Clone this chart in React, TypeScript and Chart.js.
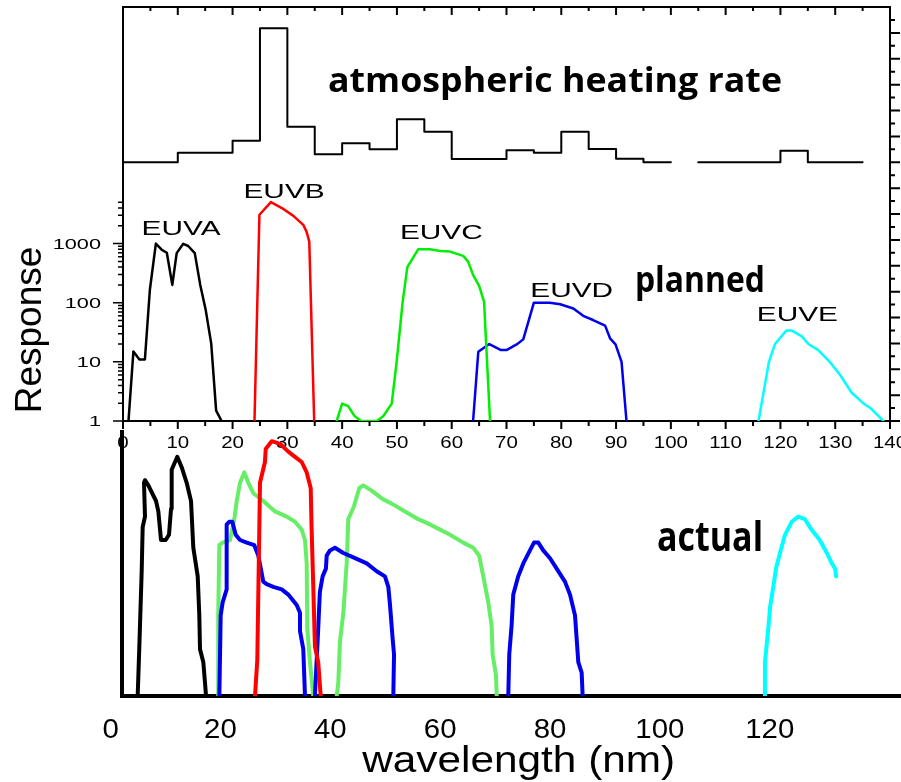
import React, { useEffect, useRef } from "react";
import { Chart, registerables } from "chart.js";

Chart.register(...registerables);

// ---------- top panel: atmospheric heating rate (arbitrary units, binned) ----------
const heatBinEdgesA = [0, 10, 20, 25, 30, 35, 40, 45, 50, 55, 60, 70, 75, 80, 85, 90, 95, 100];
const heatRatesA = [0, 0.74, 1.67, 10.35, 2.75, 0.61, 1.46, 1.0, 3.32, 2.36, 0.25, 0.92, 0.74, 2.36, 1.02, 0.27, 0];
const heatBinEdgesB = [105, 120, 125, 135];
const heatRatesB = [0, 0.89, 0];

// ---------- middle panel: planned channel responses (log) ----------
const euvaWave = [1, 1.9, 3, 4, 4.9, 6, 7.1, 8, 9, 9.8, 11, 11.9, 13.1, 14.1, 15.1, 16.1, 17, 18];
const euvaResp = [1, 15, 11, 11, 164, 1000, 780, 700, 200, 690, 990, 910, 690, 200, 75, 20.5, 1.5, 1];
const euvbWave = [24, 24.9, 27, 29, 31.1, 32.9, 33.5, 34, 34.9];
const euvbResp = [1, 3070, 5020, 3990, 2940, 2075, 1590, 1080, 1];
const euvcWave = [39, 40, 41.1, 42.3, 43.5, 46.3, 47.5, 49.05, 49.95, 51.05, 51.9, 53.9, 56, 57.9, 59.7, 62.1, 63, 63.9, 65, 65.9, 67];
const euvcResp = [1, 1.97, 1.78, 1.2, 1, 1, 1.2, 1.97, 10, 104, 400, 804, 800, 752, 732, 620, 495, 296, 192, 104, 1];
const euvdWave = [63.9, 64.85, 66.86, 69, 70, 71.85, 73.06, 75, 77.9, 79.8, 82.2, 84, 85.8, 88, 88.9, 89.9, 91, 91.9];
const euvdResp = [1, 14.8, 20, 15.8, 15.8, 19.7, 24, 100, 100, 94, 80, 60, 51, 41, 25, 19.7, 10, 1];
const euveWave = [116, 117.9, 119, 121.1, 122, 123.9, 125.1, 126.9, 129, 130.9, 133, 135.1, 136.4, 138.8];
const euveResp = [1, 10, 20, 34, 34, 27, 20, 15.8, 10, 6, 3, 2, 1.66, 1];

// ---------- bottom panel: actual channel responses (normalized) ----------
const actBlackWave = [4.93, 5.23, 5.66, 5.84, 6.26, 6.08, 6.26, 6.87, 8.27, 8.69, 9.18, 10.03, 10.63, 11.0, 11.12, 12.14, 12.94, 13.85, 14.64, 15.06, 15.86, 16.15, 16.28, 16.88, 17.19, 17.37];
const actBlackResp = [0, 0.19, 0.48, 0.65, 0.69, 0.82, 0.83, 0.81, 0.75, 0.71, 0.6, 0.6, 0.62, 0.72, 0.87, 0.92, 0.88, 0.82, 0.75, 0.57, 0.46, 0.31, 0.18, 0.13, 0.05, 0];
const actGreen1Wave = [19.6, 19.6, 19.79, 20.4, 21.74, 22.52, 22.96, 23.56, 24.34, 25.07, 25.98, 27.8, 29.93, 32.06, 33.57, 34.79, 35.39, 35.7, 35.81, 36.3, 36.9];
const actGreen1Resp = [0, 0.31, 0.58, 0.59, 0.6, 0.68, 0.75, 0.82, 0.86, 0.82, 0.78, 0.75, 0.71, 0.69, 0.67, 0.64, 0.6, 0.51, 0.26, 0.13, 0];
const actBlue1Wave = [19.8, 20.04, 20.4, 21.13, 21.13, 21.6, 22.16, 22.77, 23.56, 24.78, 26.16, 26.89, 27.8, 28.42, 29.62, 31.15, 32.35, 33.88, 34.48, 34.48, 35.08, 35.39];
const actBlue1Resp = [0, 0.31, 0.36, 0.41, 0.66, 0.67, 0.67, 0.62, 0.6, 0.59, 0.58, 0.54, 0.44, 0.43, 0.42, 0.41, 0.39, 0.35, 0.32, 0.25, 0.18, 0];
const actRedWave = [26.29, 26.71, 26.89, 27.2, 28.1, 28.24, 29.33, 30.84, 32.35, 33.57, 34.79, 35.7, 36.43, 36.6, 36.9, 37.2, 37.8, 38.25];
const actRedResp = [0, 0.14, 0.39, 0.82, 0.9, 0.95, 0.98, 0.97, 0.94, 0.92, 0.9, 0.86, 0.8, 0.64, 0.42, 0.19, 0.13, 0];
const actBlue2Wave = [37.2, 37.8, 38.1, 38.6, 39.2, 39.34, 39.94, 40.85, 42.37, 44.5, 46.63, 48.44, 49.95, 50.56, 50.87, 51.35, 51.6, 51.47];
const actBlue2Resp = [0, 0.26, 0.4, 0.46, 0.49, 0.54, 0.56, 0.57, 0.55, 0.53, 0.51, 0.48, 0.46, 0.42, 0.35, 0.22, 0.16, 0];
const actGreen2Wave = [41.16, 41.45, 41.76, 42.37, 42.98, 43.27, 44.31, 45.28, 46.0, 47.53, 49.35, 51.17, 53.6, 56.0, 58.15, 59.97, 61.8, 64.2, 66.03, 67.1, 67.85, 68.76, 69.37, 69.55, 70.16, 70.3];
const actGreen2Resp = [0, 0.05, 0.21, 0.32, 0.51, 0.68, 0.73, 0.8, 0.81, 0.79, 0.76, 0.74, 0.71, 0.68, 0.66, 0.64, 0.62, 0.59, 0.57, 0.54, 0.46, 0.36, 0.27, 0.16, 0.08, 0];
const actBlue3Wave = [72.4, 72.58, 73.0, 73.31, 74.2, 75.13, 76.35, 77.08, 77.87, 78.77, 80.0, 81.21, 82.72, 83.64, 84.55, 85.15, 85.76, 85.94];
const actBlue3Resp = [0, 0.16, 0.27, 0.39, 0.46, 0.51, 0.56, 0.59, 0.59, 0.56, 0.53, 0.49, 0.44, 0.39, 0.31, 0.13, 0.09, 0];
const actCyanWave = [119.13, 119.13, 119.74, 120.05, 120.65, 121.14, 121.87, 122.78, 124.0, 125.2, 126.4, 127.6, 129.1, 130.4, 131.3, 131.9, 132.1];
const actCyanResp = [0, 0.13, 0.26, 0.34, 0.42, 0.49, 0.55, 0.62, 0.67, 0.69, 0.68, 0.64, 0.6, 0.55, 0.51, 0.49, 0.46];

// ---------- ticks ----------
const midTickLabels = [0, 10, 20, 30, 40, 50, 60, 70, 80, 90, 100, 110, 120, 130, 140];
const midMinorTicks = [5, 15, 25, 35, 45, 55, 65, 75, 85, 95, 105, 115, 125, 135];
const logTickLabels = [1, 10, 100, 1000];
const logMinorTicks = [2, 3, 4, 5, 6, 7, 8, 9, 20, 30, 40, 50, 60, 70, 80, 90, 200, 300, 400, 500, 600, 700, 800, 900, 2000, 3000, 4000, 5000];
const heatAxisTicks = [-20, -19, -18, -17, -16, -15, -14, -13, -12, -11, -10, -9, -8, -7, -6, -5, -4, -3, -2, -1, 0, 1, 2, 3, 4, 5, 6, 7, 8, 9, 10, 11];
const bottomTickLabels = [0, 20, 40, 60, 80, 100, 120];

const SANS = '"Liberation Sans", Arial, sans-serif';
const BOLD = '"Open Sans", "DejaVu Sans", sans-serif';

const pairs = (xs: number[], ys: number[]) => xs.map((x, i) => ({ x, y: ys[i] }));
const stepPoints = (edges: number[], vals: number[]) => {
  const pts = vals.map((v, i) => ({ x: edges[i], y: v }));
  pts.push({ x: edges[edges.length - 1], y: vals[vals.length - 1] });
  return pts;
};

function drawText(ctx: CanvasRenderingContext2D, text: string, x: number, y: number, font: string, sx: number, align: CanvasTextAlign = "center") {
  ctx.save();
  ctx.font = font;
  ctx.textAlign = align;
  ctx.textBaseline = "alphabetic";
  ctx.translate(x, y);
  ctx.scale(sx, 1);
  ctx.fillText(text, 0, 0);
  ctx.restore();
}
function fitText(ctx: CanvasRenderingContext2D, text: string, cx: number, y: number, font: string, width: number) {
  ctx.save();
  ctx.font = font;
  const w = ctx.measureText(text).width;
  ctx.restore();
  drawText(ctx, text, cx, y, font, width / w, "center");
}

const panelAPlugin = {
  id: "panelA",
  afterDraw(chart: any) {
    const { ctx, chartArea: ar, scales } = chart;
    const x = scales.x, y = scales.y, yh = scales.yh;
    ctx.save();
    ctx.strokeStyle = "#000";
    ctx.fillStyle = "#000";
    ctx.lineWidth = 2;
    ctx.beginPath();
    for (const v of midTickLabels) {
      const px = x.getPixelForValue(v);
      ctx.moveTo(px, ar.bottom); ctx.lineTo(px, ar.bottom + 8);
      ctx.moveTo(px, ar.top); ctx.lineTo(px, ar.top + 8);
    }
    for (const v of midMinorTicks) {
      const px = x.getPixelForValue(v);
      ctx.moveTo(px, ar.bottom); ctx.lineTo(px, ar.bottom + 5);
      ctx.moveTo(px, ar.top); ctx.lineTo(px, ar.top + 4);
    }
    ctx.stroke();
    ctx.lineWidth = 1.5;
    ctx.beginPath();
    for (const v of logTickLabels) {
      const py = y.getPixelForValue(v);
      ctx.moveTo(ar.left, py); ctx.lineTo(ar.left - 10, py);
    }
    for (const v of logMinorTicks) {
      const py = y.getPixelForValue(v);
      ctx.moveTo(ar.left, py); ctx.lineTo(ar.left - 5, py);
    }
    ctx.stroke();
    ctx.lineWidth = 2;
    ctx.beginPath();
    for (const v of heatAxisTicks) {
      const py = yh.getPixelForValue(v);
      ctx.moveTo(ar.right, py); ctx.lineTo(ar.right + (v % 2 === 0 ? 10 : 5), py);
    }
    ctx.stroke();

    for (const v of midTickLabels) drawText(ctx, String(v), x.getPixelForValue(v), ar.bottom + 27, `16px ${SANS}`, 1.28);
    for (const v of logTickLabels) drawText(ctx, String(v), ar.left - 22, y.getPixelForValue(v) + 5, `14px ${SANS}`, 1.55, "right");

    // channel names
    const names: [string, number, number][] = [
      ["EUVA", 10.6, 1400], ["EUVB", 29.4, 6000], ["EUVC", 58.1, 1200], ["EUVD", 81.9, 125], ["EUVE", 123.1, 49],
    ];
    for (const [t, wv, r] of names) drawText(ctx, t, x.getPixelForValue(wv), y.getPixelForValue(r), `21px ${SANS}`, 1.42);

    fitText(ctx, "planned", x.getPixelForValue(105.3), y.getPixelForValue(152), `bold 36px ${BOLD}`, 130);
    fitText(ctx, "atmospheric heating rate", x.getPixelForValue(78.85), yh.getPixelForValue(5.43), `bold 34px ${BOLD}`, 454);

    // y title
    ctx.save();
    ctx.translate(41, 330);
    ctx.rotate(-Math.PI / 2);
    ctx.font = `37px ${SANS}`;
    ctx.textAlign = "center";
    ctx.textBaseline = "alphabetic";
    ctx.fillText("Response", 0, 0);
    ctx.restore();
    ctx.restore();
  },
};

const panelBPlugin = {
  id: "panelB",
  afterDraw(chart: any) {
    const { ctx, chartArea: ar, scales } = chart;
    const x = scales.x, y = scales.y;
    ctx.save();
    ctx.fillStyle = "#000";
    for (const v of bottomTickLabels) drawText(ctx, String(v), x.getPixelForValue(v), ar.bottom + 42, `28px ${SANS}`, 1.05);
    fitText(ctx, "wavelength (nm)", x.getPixelForValue(74.3), ar.bottom + 76, `37px ${SANS}`, 313);
    fitText(ctx, "actual", x.getPixelForValue(109.13), y.getPixelForValue(0.558), `bold 42px ${BOLD}`, 106);
    ctx.restore();
  },
};

const hiddenAxis = (extra: any) => ({
  type: "linear",
  grid: { display: false, drawTicks: false },
  ticks: { display: false },
  border: { display: true, color: "#000", width: 2 },
  ...extra,
});

const lineDs = (data: any, color: string, width: number, yAxisID = "y") => ({
  data,
  borderColor: color,
  borderWidth: width,
  pointRadius: 0,
  tension: 0,
  fill: false,
  yAxisID,
  borderJoinStyle: "round",
  borderCapStyle: "round",
});

export default function App() {
  const refA = useRef<HTMLCanvasElement>(null);
  const refB = useRef<HTMLCanvasElement>(null);

  useEffect(() => {
    const chartA = new Chart(refA.current as HTMLCanvasElement, {
      type: "line",
      data: {
        datasets: [
          { ...lineDs(stepPoints(heatBinEdgesA, heatRatesA), "#000", 2, "yh"), stepped: true },
          { ...lineDs(stepPoints(heatBinEdgesB, heatRatesB), "#000", 2, "yh"), stepped: true },
          lineDs(pairs(euvaWave, euvaResp), "#000", 2.5),
          lineDs(pairs(euvbWave, euvbResp), "#ff0000", 2.5),
          lineDs(pairs(euvcWave, euvcResp), "#00ee00", 2.5),
          lineDs(pairs(euvdWave, euvdResp), "#0000ee", 2.5),
          lineDs(pairs(euveWave, euveResp), "#00ffff", 2.5),
        ] as any,
      },
      options: {
        responsive: false,
        animation: false,
        devicePixelRatio: 1,
        events: [],
        layout: { padding: { left: 123, right: 11, top: 7, bottom: 361 } },
        plugins: { legend: { display: false }, tooltip: { enabled: false } },
        scales: {
          x: hiddenAxis({ position: "bottom", min: 0, max: 140 }),
          xTop: hiddenAxis({ position: "top", min: 0, max: 140 }),
          y: hiddenAxis({ type: "logarithmic", position: "left", min: 1, max: 1e7 }),
          yh: hiddenAxis({ position: "right", min: -20, max: 12 }),
        } as any,
      },
      plugins: [panelAPlugin],
    });

    const chartB = new Chart(refB.current as HTMLCanvasElement, {
      type: "line",
      data: {
        datasets: [
          lineDs(pairs(actRedWave, actRedResp), "#ff0000", 4),
          lineDs(pairs(actCyanWave, actCyanResp), "#00ffff", 4),
          lineDs(pairs(actBlue1Wave, actBlue1Resp), "#0000ee", 4),
          lineDs(pairs(actBlue2Wave, actBlue2Resp), "#0000ee", 4),
          lineDs(pairs(actBlue3Wave, actBlue3Resp), "#0000ee", 4),
          lineDs(pairs(actGreen1Wave, actGreen1Resp), "#66ee66", 4),
          lineDs(pairs(actGreen2Wave, actGreen2Resp), "#66ee66", 4),
          lineDs(pairs(actBlackWave, actBlackResp), "#000", 4),
        ] as any,
      },
      options: {
        responsive: false,
        animation: false,
        devicePixelRatio: 1,
        events: [],
        layout: { padding: { left: 122, right: 0, top: 432, bottom: 86 } },
        plugins: { legend: { display: false }, tooltip: { enabled: false } },
        scales: {
          x: hiddenAxis({ position: "bottom", min: 2.075, max: 143.9, border: { display: true, color: "#000", width: 4 } }),
          y: hiddenAxis({ position: "left", min: 0, max: 1.0154, border: { display: true, color: "#000", width: 4 } }),
        } as any,
      },
      plugins: [panelBPlugin],
    });

    return () => {
      chartA.destroy();
      chartB.destroy();
    };
  }, []);

  return (
    <div style={{ position: "fixed", left: 0, top: 0, width: 901, height: 782, background: "#fff", overflow: "hidden" }}>
      <canvas ref={refA} width={901} height={782} style={{ position: "absolute", left: 0, top: 0 }} />
      <canvas ref={refB} width={901} height={782} style={{ position: "absolute", left: 0, top: 0 }} />
    </div>
  );
}
